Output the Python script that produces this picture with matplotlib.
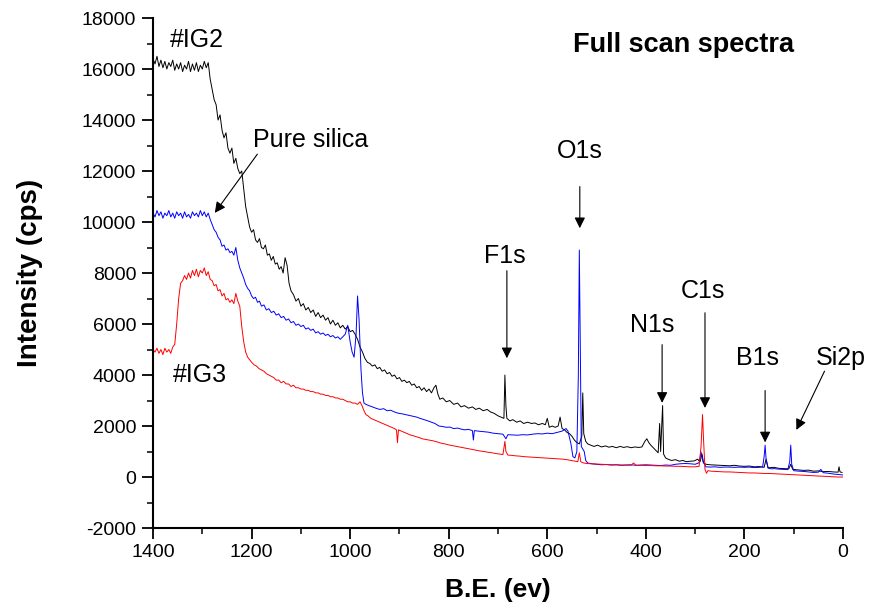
import matplotlib
matplotlib.use("Agg")
import matplotlib.pyplot as plt
from matplotlib.ticker import MultipleLocator

plt.rcParams['font.family'] = ['Liberation Sans', 'DejaVu Sans']
plt.rcParams['axes.unicode_minus'] = False

# binding energy (eV) and intensity (cps)
ig2_be = [1400, 1396, 1392, 1388, 1384, 1380, 1376, 1372, 1368, 1364, 1360, 1356, 1352, 1348, 1344, 1340,
          1336, 1332, 1328, 1324, 1320, 1316, 1312, 1308, 1304, 1300, 1296, 1292, 1288, 1284, 1280, 1276,
          1272, 1268, 1264, 1260, 1256, 1252, 1248, 1244, 1240, 1236, 1232, 1228, 1224, 1220, 1216, 1212,
          1208, 1204, 1200, 1196, 1192, 1188, 1184, 1180, 1176, 1172, 1168, 1164, 1160, 1156, 1152, 1148,
          1144, 1140, 1136, 1132, 1128, 1124, 1120, 1115, 1110, 1105, 1100, 1095, 1090, 1085, 1080, 1075,
          1070, 1065, 1060, 1055, 1050, 1045, 1040, 1035, 1030, 1025, 1020, 1015, 1010, 1005, 1000, 995,
          990, 985, 980, 975, 970, 965, 960, 955, 950, 945, 940, 935, 930, 925, 920, 915, 910, 905, 900,
          895, 890, 885, 880, 875, 870, 865, 860, 855, 850, 845, 840, 835, 830, 826, 822, 818, 812, 805,
          798, 790, 782, 775, 768, 760, 752, 745, 738, 730, 722, 715, 708, 700, 694, 688, 686, 684, 682,
          676, 670, 662, 655, 648, 640, 632, 625, 618, 610, 604, 600, 596, 590, 584, 578, 574, 570, 565,
          560, 555, 550, 545, 540, 535, 530, 528, 526, 522, 518, 512, 505, 498, 490, 482, 475, 468, 460,
          452, 445, 438, 430, 422, 415, 408, 402, 398, 394, 390, 385, 380, 375, 372, 370, 366, 364, 360,
          355, 348, 340, 332, 325, 318, 310, 302, 295, 290, 286, 283, 278, 270, 260, 250, 240, 230, 220,
          210, 200, 190, 180, 170, 160, 156, 152, 140, 130, 120, 110, 106, 102, 90, 80, 70, 60, 50, 40,
          30, 20, 10, 8, 6, 2]
ig2_int = [16400, 16200, 16500, 16100, 16350, 16050, 16300, 16000, 16250, 16100, 16350, 15950, 16200, 16000, 16250, 15900,
           16150, 16000, 16300, 15900, 16200, 15950, 16250, 15900, 16150, 16000, 16300, 16050, 16250, 15600, 15200, 14800,
           14600, 14000, 14200, 13600, 13300, 13500, 12900, 12700, 12900, 12300, 12500, 12100, 11900, 12000, 11300, 10600,
           10200, 9800, 9600, 9700, 9300, 9200, 9350, 9000, 8950, 9100, 8700, 8750, 8500, 8650, 8350, 8400,
           8150, 8250, 8000, 8600, 8300, 7600, 7300, 7150, 6900, 7000, 6700, 6800, 6550, 6650, 6450, 6550,
           6300, 6450, 6250, 6350, 6150, 6250, 6000, 6150, 5950, 6050, 5850, 5950, 5800, 5900, 5700, 5750,
           5600, 5400, 5100, 4900, 4650, 4500, 4450, 4350, 4400, 4250, 4300, 4150, 4200, 4050, 4100, 3950, 4000, 3850, 3900,
           3750, 3800, 3700, 3750, 3600, 3650, 3500, 3550, 3400, 3500, 3350, 3450, 3300, 3500, 3600, 3250, 3050, 3100, 2950,
           3000, 2850, 2900, 2750, 2800, 2700, 2750, 2650, 2700, 2600, 2650, 2550, 2500, 2400, 2350, 2300, 4000, 2800, 2300,
           2200, 2250, 2150, 2200, 2100, 2150, 2100, 2120, 2050, 2100, 2050, 2300, 1950, 2000, 1950, 2000, 2350, 1900, 1850,
           1750, 1700, 1600, 1450, 1350, 1300, 1600, 3300, 1700, 1400, 1300, 1250, 1200, 1250, 1180, 1220, 1170, 1200, 1150,
           1200, 1160, 1190, 1150, 1180, 1160, 1180, 1400, 1500, 1350, 1250, 1150, 1050, 950, 2100, 1000, 2800, 900, 750,
           700, 650, 680, 620, 650, 600, 620, 630, 700, 600, 900, 560, 500, 480, 470, 460, 450, 440, 460,
           430, 420, 430, 400, 410, 380, 700, 360, 380, 340, 330, 320, 500, 300, 280, 260, 270, 230, 240, 210,
           220, 200, 190, 400, 200, 180]

silica_be = [1400, 1396, 1392, 1388, 1384, 1380, 1376, 1372, 1368, 1364, 1360, 1356, 1352, 1348, 1344, 1340,
             1336, 1332, 1328, 1324, 1320, 1316, 1312, 1308, 1304, 1300, 1296, 1292, 1288, 1284, 1280, 1276,
             1272, 1268, 1264, 1260, 1256, 1252, 1248, 1244, 1240, 1236, 1232, 1228, 1224, 1220, 1216, 1212,
             1208, 1204, 1200, 1196, 1192, 1188, 1184, 1180, 1175, 1170, 1165, 1160, 1155, 1150, 1145, 1140,
             1135, 1130, 1125, 1120, 1115, 1110, 1105, 1100, 1095, 1090, 1085, 1080, 1075, 1070, 1065, 1060,
             1055, 1050, 1045, 1040, 1035, 1030, 1025, 1020, 1015, 1010, 1005, 1000, 996, 992, 988, 985, 982,
             978, 975, 972, 968, 962, 955, 948, 940, 932, 925, 918, 910, 902, 895, 888, 880, 872, 865, 858,
             850, 842, 835, 828, 820, 812, 805, 798, 790, 782, 775, 768, 760, 752, 750, 748, 740, 730, 720,
             710, 700, 690, 684, 680, 670, 660, 650, 640, 630, 620, 610, 600, 590, 580, 570, 562, 558, 552,
             548, 544, 540, 537, 535, 533, 531, 528, 525, 522, 518, 510, 500, 490, 480, 470, 460, 450, 440,
             430, 420, 410, 400, 390, 380, 370, 360, 350, 340, 330, 320, 310, 300, 292, 288, 284, 278, 270,
             260, 250, 240, 230, 220, 210, 200, 190, 180, 170, 163, 160, 158, 156, 152, 145, 140, 130, 120,
             112, 108, 106, 104, 100, 90, 80, 70, 60, 50, 45, 40, 30, 20, 10, 0]
silica_int = [10350, 10200, 10450, 10250, 10400, 10150, 10350, 10250, 10450, 10200, 10350, 10150, 10400, 10250, 10350, 10150,
              10400, 10200, 10300, 10150, 10400, 10250, 10350, 10200, 10450, 10250, 10400, 10200, 10350, 10100, 9900, 9700,
              9600, 9400, 9300, 9050, 9100, 8900, 8950, 8800, 8850, 8700, 9000, 8500, 8200, 8000, 7800, 7550,
              7400, 7300, 7100, 7000, 7050, 6850, 6900, 6700, 6750, 6550, 6600, 6450, 6500, 6350, 6400, 6250,
              6300, 6150, 6200, 6050, 6100, 5950, 6000, 5900, 5950, 5800, 5850, 5750, 5800, 5650, 5700, 5600,
              5650, 5550, 5600, 5500, 5550, 5450, 5500, 5400, 5500, 5600, 5950, 5300, 4900, 4700, 5600, 7100, 6200,
              4200, 3300, 2900, 2850, 2800, 2750, 2700, 2650, 2680, 2600, 2620, 2550, 2500, 2480, 2450, 2420, 2380, 2350, 2300,
              2250, 2200, 2150, 2100, 2000, 1980, 1950, 1960, 1900, 1920, 1880, 1850, 1870, 1820, 1450, 1820, 1800, 1780, 1760,
              1720, 1700, 1680, 1500, 1660, 1650, 1640, 1660, 1650, 1680, 1700, 1690, 1720, 1700, 1750, 1800, 1900, 1800, 1300,
              800, 750, 1000, 4000, 8900, 5000, 1200, 1100, 1000, 650, 550, 520, 500, 480, 490, 470, 480, 460, 470,
              480, 460, 470, 480, 470, 460, 450, 470, 460, 500, 520, 530, 520, 500, 560, 980, 600, 400, 390,
              400, 380, 390, 390, 380, 390, 380, 390, 370, 380, 400, 800, 1250, 700, 350, 320, 330, 310, 300,
              290, 600, 1250, 500, 250, 230, 220, 200, 180, 190, 300, 170, 150, 120, 100, 80]

ig3_be = [1400, 1396, 1392, 1388, 1384, 1380, 1376, 1372, 1368, 1364, 1360, 1356, 1352, 1348, 1344, 1340,
          1336, 1332, 1328, 1324, 1320, 1316, 1312, 1308, 1304, 1300, 1296, 1292, 1288, 1284, 1280, 1276,
          1272, 1268, 1264, 1260, 1256, 1252, 1248, 1244, 1240, 1236, 1232, 1228, 1224, 1220, 1216, 1212,
          1208, 1204, 1200, 1195, 1190, 1185, 1180, 1175, 1170, 1165, 1160, 1155, 1150, 1145, 1140, 1135,
          1130, 1125, 1120, 1115, 1110, 1105, 1100, 1095, 1090, 1085, 1080, 1075, 1070, 1065, 1060, 1055,
          1050, 1045, 1040, 1035, 1030, 1025, 1020, 1015, 1010, 1005, 1000, 995, 990, 985, 980, 976, 972,
          968, 964, 958, 952, 946, 940, 934, 928, 922, 916, 910, 906, 904, 902, 896, 890, 884, 878, 872,
          866, 860, 854, 848, 840, 832, 824, 816, 808, 800, 792, 784, 776, 768, 760, 752, 744, 736, 728,
          720, 712, 704, 696, 690, 686, 684, 680, 672, 664, 656, 648, 640, 632, 624, 616, 608, 600, 592,
          584, 576, 568, 560, 552, 544, 538, 535, 532, 528, 520, 510, 500, 490, 480, 470, 460, 450, 440,
          430, 425, 420, 410, 400, 390, 380, 370, 360, 350, 340, 330, 320, 310, 300, 292, 288, 285, 283,
          280, 277, 274, 268, 260, 250, 240, 230, 220, 210, 200, 190, 180, 170, 160, 150, 140, 130, 120,
          110, 100, 90, 80, 70, 60, 50, 40, 30, 20, 10, 0]
ig3_int = [5000, 4900, 5050, 4850, 5000, 4800, 5050, 4900, 5000, 4850, 5100, 5200, 6000, 7000, 7600, 7700,
           7900, 7750, 8000, 7800, 8100, 7900, 8150, 7850, 8100, 8000, 8200, 7900, 8050, 7750, 7700, 7500,
           7550, 7300, 7350, 7100, 7200, 6950, 7000, 6850, 6950, 6800, 7200, 6900, 6700, 5900, 5300, 4900,
           4700, 4600, 4500, 4400, 4350, 4250, 4200, 4150, 4050, 4000, 3950, 3900, 3800, 3800, 3700, 3750,
           3650, 3650, 3550, 3600, 3500, 3500, 3450, 3450, 3400, 3400, 3350, 3350, 3300, 3300, 3250, 3250,
           3200, 3200, 3150, 3150, 3100, 3100, 3050, 3050, 3000, 2950, 2950, 2900, 2900, 2850, 2950, 2800, 2600,
           2450, 2400, 2300, 2250, 2200, 2150, 2100, 2050, 2000, 1950, 1900, 1850, 1350, 1850, 1800, 1750, 1700, 1650, 1620,
           1580, 1550, 1500, 1480, 1450, 1420, 1380, 1330, 1300, 1260, 1230, 1200, 1170, 1140, 1110, 1080, 1050, 1020, 1000,
           970, 950, 920, 900, 880, 1400, 1000, 860, 850, 830, 820, 800, 790, 780, 770, 760, 750, 740, 730,
           720, 710, 700, 680, 650, 620, 600, 950, 600, 560, 530, 520, 510, 500, 490, 480, 480, 470, 470,
           460, 550, 460, 460, 450, 450, 440, 440, 430, 430, 420, 420, 410, 400, 400, 420, 1200, 2450, 1500,
           300, 150, 250, 230, 220, 210, 200, 200, 190, 180, 170, 160, 160, 150, 140, 140, 130, 120, 110,
           100, 90, 80, 70, 60, 50, 40, 30, 20, 10, 0, 0]

# peak labels: text position, arrow tail, arrow head (in data coords)
peak_names = ["O1s", "F1s", "N1s", "C1s", "B1s", "Si2p"]
peak_text = [(534, 12800), (686, 8650), (388, 5950), (284, 7300), (174, 4650), (5, 4650)]
peak_tail = [(534, 11500), (682, 8200), (367, 5300), (280, 6550), (158, 3500), (35, 4250)]
peak_head = [(534, 9650), (682, 4550), (367, 2800), (280, 2600), (158, 1250), (97, 1750)]

fig = plt.figure(figsize=(8.75, 6.11), dpi=100)
ax = fig.add_axes([0.1749, 0.1358, 0.7885, 0.8347])

ax.plot(ig2_be, ig2_int, color='black', lw=0.7)
ax.plot(silica_be, silica_int, color='blue', lw=0.7)
ax.plot(ig3_be, ig3_int, color='red', lw=0.7)

ax.set_xlim(1400, 0)
ax.set_ylim(-2000, 18000)
ax.xaxis.set_major_locator(MultipleLocator(200))
ax.xaxis.set_minor_locator(MultipleLocator(100))
ax.yaxis.set_major_locator(MultipleLocator(2000))
ax.yaxis.set_minor_locator(MultipleLocator(1000))
ax.tick_params(which='major', direction='out', length=8, width=1.3, labelsize=14)
ax.tick_params(which='minor', direction='out', length=4, width=1.1)
ax.tick_params(axis='y', which='major', pad=4)
for s in ['top', 'right']:
    ax.spines[s].set_visible(False)
for s in ['left', 'bottom']:
    ax.spines[s].set_linewidth(1.5)

ax.set_xlabel("B.E. (ev)", fontsize=19, fontweight='bold', labelpad=12)
ax.set_ylabel("Intensity (cps)", fontsize=20, fontweight='bold', labelpad=28)

ax.text(1311, 17150, "#IG2", fontsize=18, ha='center', va='center')
ax.text(1305, 4000, "#IG3", fontsize=18, ha='center', va='center')
ax.text(323, 16950, "Full scan spectra", fontsize=19.5, fontweight='bold', ha='center', va='center')

arrow = dict(arrowstyle='-|>', color='black', lw=0.8, mutation_scale=16)
ax.annotate("", xy=(1278, 10270), xytext=(1185, 12750), arrowprops=arrow)
ax.text(1081, 13200, "Pure silica", fontsize=18, ha='center', va='center')

for name, t, tail, head in zip(peak_names, peak_text, peak_tail, peak_head):
    ax.text(t[0], t[1], name, fontsize=18, ha='center', va='center')
    ax.annotate("", xy=head, xytext=tail, arrowprops=arrow)

fig.savefig("out.png", dpi=100)
